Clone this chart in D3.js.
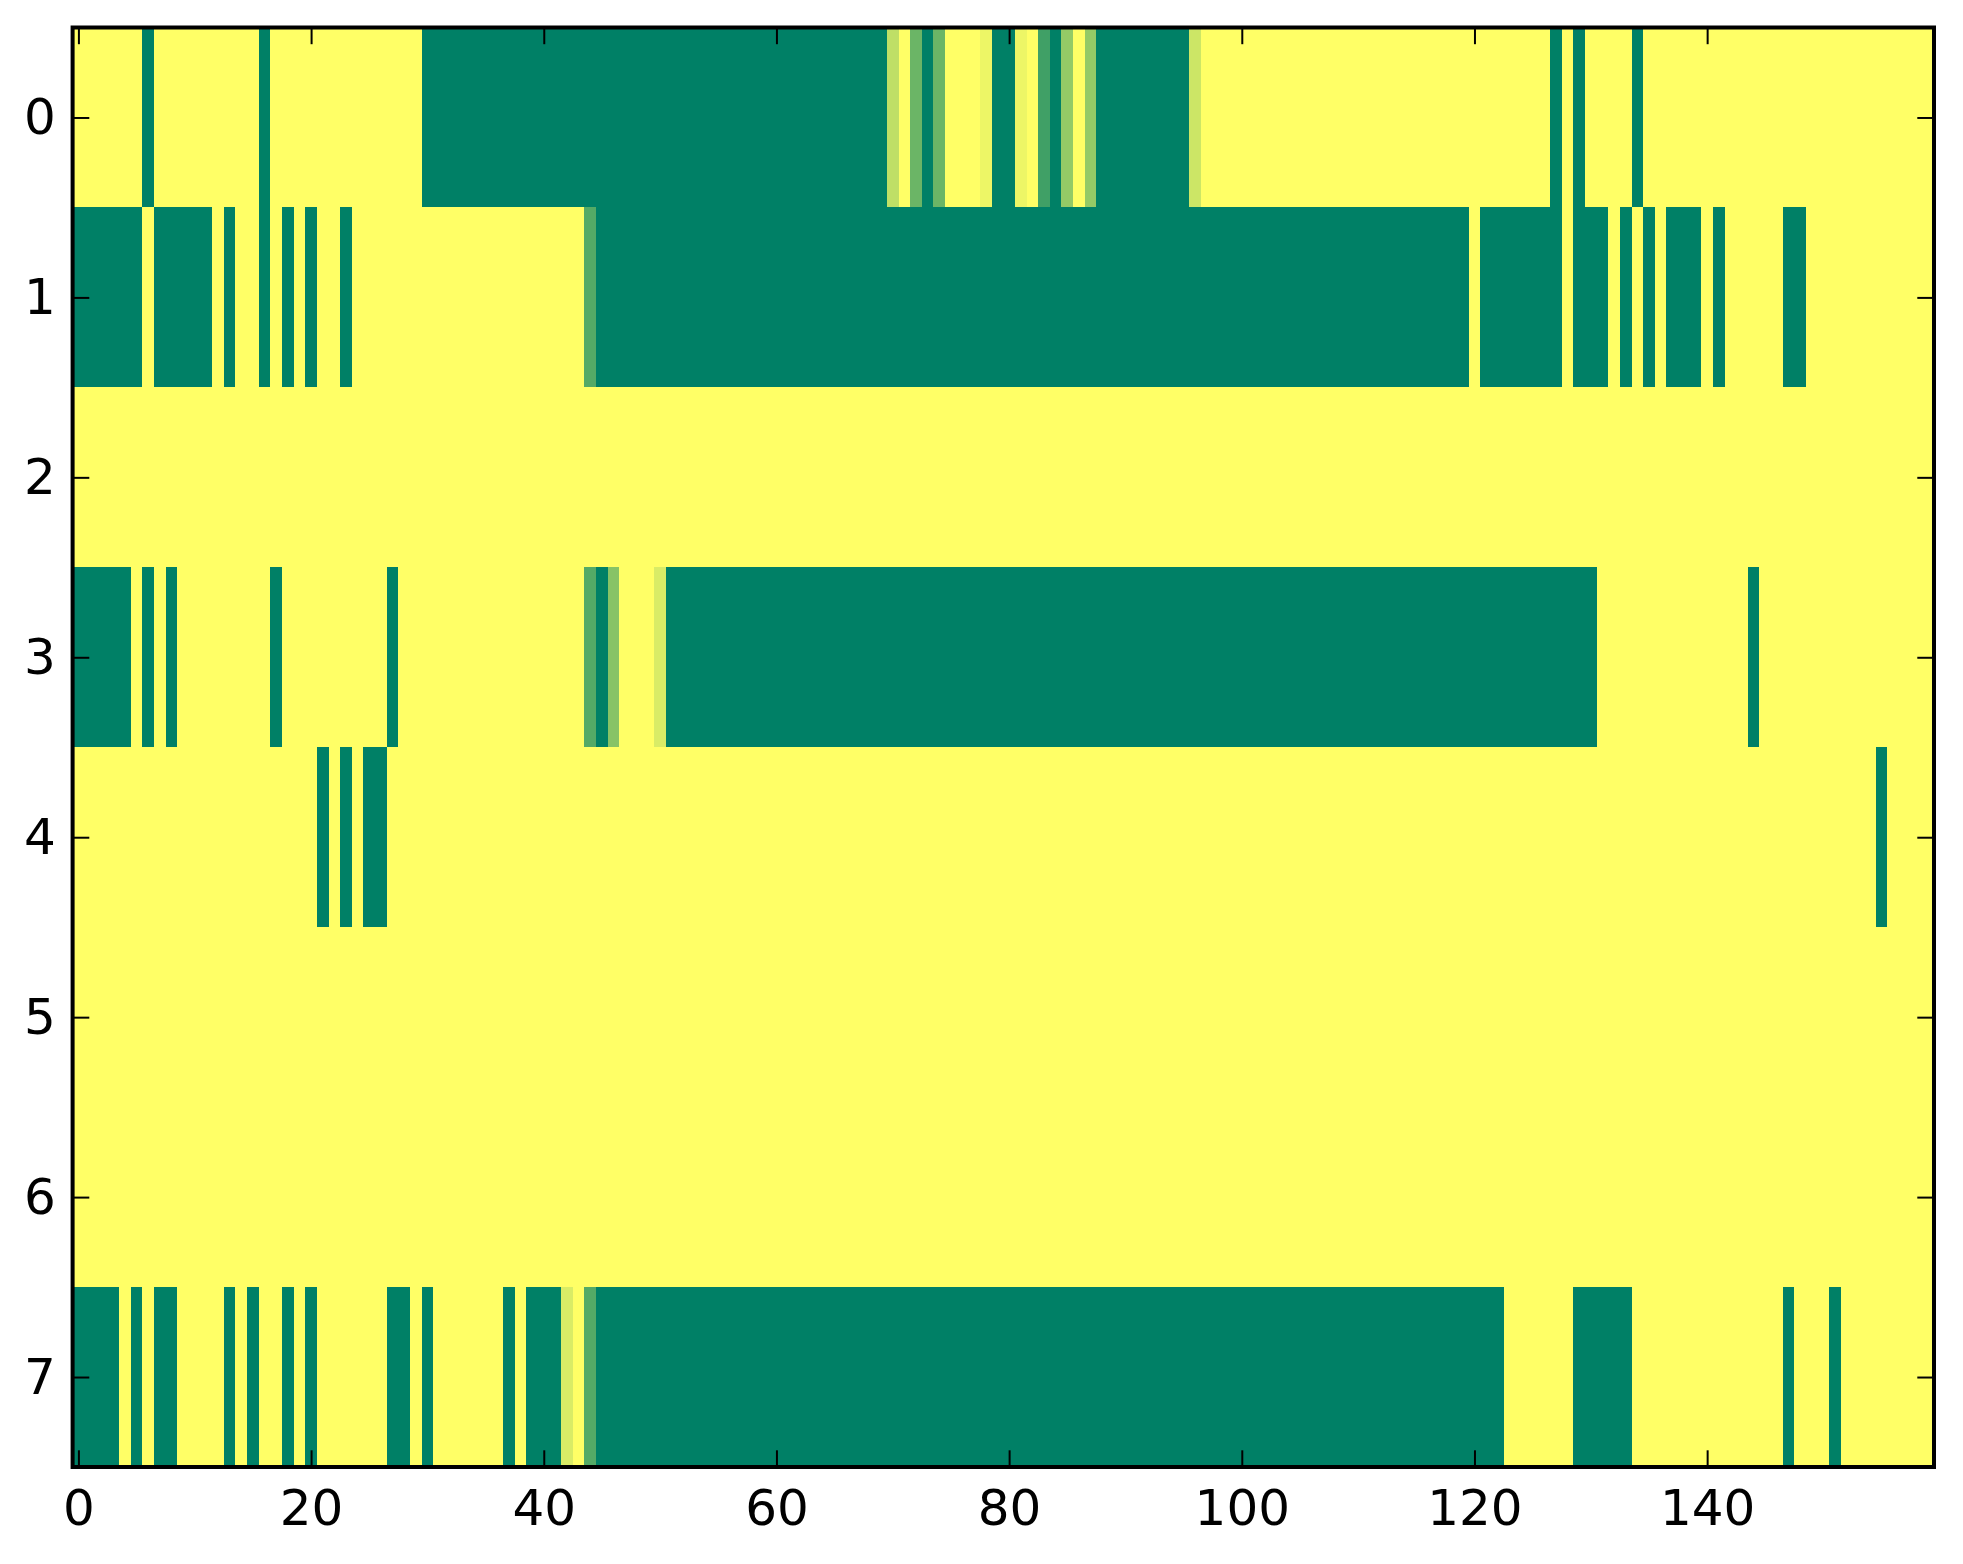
<!DOCTYPE html>
<html>
<head>
<meta charset="utf-8">
<script src="https://cdn.jsdelivr.net/npm/d3@7"></script>
<style>
  body { margin: 0; background: white; }
</style>
</head>
<body>
<div id="chart"></div>
<script>
// one array per image row, 160 cells each (0 = green, 1 = yellow)
var row0 = [
  1,1,1,1,1,1,0,1,1,1, 1,1,1,1,1,1,0,1,1,1,
  1,1,1,1,1,1,1,1,1,1, 0,0,0,0,0,0,0,0,0,0,
  0,0,0,0,0,0,0,0,0,0, 0,0,0,0,0,0,0,0,0,0,
  0,0,0,0,0,0,0,0,0,0, .75,1,.42,0,.42,1,1,1,.93,0,
  0,.93,1,.25,0,.58,1,.58,0,0, 0,0,0,0,0,0,.8,1,1,1,
  1,1,1,1,1,1,1,1,1,1, 1,1,1,1,1,1,1,1,1,1,
  1,1,1,1,1,1,1,0,1,0, 1,1,1,1,0,1,1,1,1,1,
  1,1,1,1,1,1,1,1,1,1, 1,1,1,1,1,1,1,1,1,1
];
var row1 = [
  0,0,0,0,0,0,1,0,0,0, 0,0,1,0,1,1,0,1,0,1,
  0,1,1,0,1,1,1,1,1,1, 1,1,1,1,1,1,1,1,1,1,
  1,1,1,1,.33,0,0,0,0,0, 0,0,0,0,0,0,0,0,0,0,
  0,0,0,0,0,0,0,0,0,0, 0,0,0,0,0,0,0,0,0,0,
  0,0,0,0,0,0,0,0,0,0, 0,0,0,0,0,0,0,0,0,0,
  0,0,0,0,0,0,0,0,0,0, 0,0,0,0,0,0,0,0,0,0,
  1,0,0,0,0,0,0,0,1,0, 0,0,1,0,1,0,1,0,0,0,
  1,0,1,1,1,1,1,0,0,1, 1,1,1,1,1,1,1,1,1,1
];
var row2 = [
  1,1,1,1,1,1,1,1,1,1, 1,1,1,1,1,1,1,1,1,1,
  1,1,1,1,1,1,1,1,1,1, 1,1,1,1,1,1,1,1,1,1,
  1,1,1,1,1,1,1,1,1,1, 1,1,1,1,1,1,1,1,1,1,
  1,1,1,1,1,1,1,1,1,1, 1,1,1,1,1,1,1,1,1,1,
  1,1,1,1,1,1,1,1,1,1, 1,1,1,1,1,1,1,1,1,1,
  1,1,1,1,1,1,1,1,1,1, 1,1,1,1,1,1,1,1,1,1,
  1,1,1,1,1,1,1,1,1,1, 1,1,1,1,1,1,1,1,1,1,
  1,1,1,1,1,1,1,1,1,1, 1,1,1,1,1,1,1,1,1,1
];
var row3 = [
  0,0,0,0,0,1,0,1,0,1, 1,1,1,1,1,1,1,0,1,1,
  1,1,1,1,1,1,1,0,1,1, 1,1,1,1,1,1,1,1,1,1,
  1,1,1,1,.33,0,.53,1,1,1, .85,0,0,0,0,0,0,0,0,0,
  0,0,0,0,0,0,0,0,0,0, 0,0,0,0,0,0,0,0,0,0,
  0,0,0,0,0,0,0,0,0,0, 0,0,0,0,0,0,0,0,0,0,
  0,0,0,0,0,0,0,0,0,0, 0,0,0,0,0,0,0,0,0,0,
  0,0,0,0,0,0,0,0,0,0, 0,1,1,1,1,1,1,1,1,1,
  1,1,1,1,0,1,1,1,1,1, 1,1,1,1,1,1,1,1,1,1
];
var row4 = [
  1,1,1,1,1,1,1,1,1,1, 1,1,1,1,1,1,1,1,1,1,
  1,0,1,0,1,0,0,1,1,1, 1,1,1,1,1,1,1,1,1,1,
  1,1,1,1,1,1,1,1,1,1, 1,1,1,1,1,1,1,1,1,1,
  1,1,1,1,1,1,1,1,1,1, 1,1,1,1,1,1,1,1,1,1,
  1,1,1,1,1,1,1,1,1,1, 1,1,1,1,1,1,1,1,1,1,
  1,1,1,1,1,1,1,1,1,1, 1,1,1,1,1,1,1,1,1,1,
  1,1,1,1,1,1,1,1,1,1, 1,1,1,1,1,1,1,1,1,1,
  1,1,1,1,1,1,1,1,1,1, 1,1,1,1,1,0,1,1,1,1
];
var row5 = [
  1,1,1,1,1,1,1,1,1,1, 1,1,1,1,1,1,1,1,1,1,
  1,1,1,1,1,1,1,1,1,1, 1,1,1,1,1,1,1,1,1,1,
  1,1,1,1,1,1,1,1,1,1, 1,1,1,1,1,1,1,1,1,1,
  1,1,1,1,1,1,1,1,1,1, 1,1,1,1,1,1,1,1,1,1,
  1,1,1,1,1,1,1,1,1,1, 1,1,1,1,1,1,1,1,1,1,
  1,1,1,1,1,1,1,1,1,1, 1,1,1,1,1,1,1,1,1,1,
  1,1,1,1,1,1,1,1,1,1, 1,1,1,1,1,1,1,1,1,1,
  1,1,1,1,1,1,1,1,1,1, 1,1,1,1,1,1,1,1,1,1
];
var row6 = [
  1,1,1,1,1,1,1,1,1,1, 1,1,1,1,1,1,1,1,1,1,
  1,1,1,1,1,1,1,1,1,1, 1,1,1,1,1,1,1,1,1,1,
  1,1,1,1,1,1,1,1,1,1, 1,1,1,1,1,1,1,1,1,1,
  1,1,1,1,1,1,1,1,1,1, 1,1,1,1,1,1,1,1,1,1,
  1,1,1,1,1,1,1,1,1,1, 1,1,1,1,1,1,1,1,1,1,
  1,1,1,1,1,1,1,1,1,1, 1,1,1,1,1,1,1,1,1,1,
  1,1,1,1,1,1,1,1,1,1, 1,1,1,1,1,1,1,1,1,1,
  1,1,1,1,1,1,1,1,1,1, 1,1,1,1,1,1,1,1,1,1
];
var row7 = [
  0,0,0,0,1,0,1,0,0,1, 1,1,1,0,1,0,1,1,0,1,
  0,1,1,1,1,1,1,0,0,1, 0,1,1,1,1,1,1,0,1,0,
  0,0,.85,1,.33,0,0,0,0,0, 0,0,0,0,0,0,0,0,0,0,
  0,0,0,0,0,0,0,0,0,0, 0,0,0,0,0,0,0,0,0,0,
  0,0,0,0,0,0,0,0,0,0, 0,0,0,0,0,0,0,0,0,0,
  0,0,0,0,0,0,0,0,0,0, 0,0,0,0,0,0,0,0,0,0,
  0,0,0,1,1,1,1,1,1,0, 0,0,0,0,1,1,1,1,1,1,
  1,1,1,1,1,1,1,0,1,1, 1,0,1,1,1,1,1,1,1,1
];
var rows = [row0, row1, row2, row3, row4, row5, row6, row7];

var xTicks = [0, 20, 40, 60, 80, 100, 120, 140];
var yTicks = [0, 1, 2, 3, 4, 5, 6, 7];

var svgWidth = 1963,
    svgHeight = 1564;
var plotLeft = 72.6, plotRight = 1934, plotTop = 27.5, plotBottom = 1467;
var tickLen = 16.7;

var svg = d3.select('#chart').append('svg')
    .attr('width', svgWidth)
    .attr('height', svgHeight)
    .style('background', 'white')
    .style('display', 'block');

var x = d3.scaleLinear().domain([-0.5, row0.length - 0.5]).range([plotLeft, plotRight]);
var y = d3.scaleLinear().domain([-0.5, rows.length - 0.5]).range([plotTop, plotBottom]);
// matplotlib "summer" colormap
var color = d3.scaleLinear().domain([0, 1]).range(['#008066', '#ffff66']);

// heatmap cells
var cells = [];
rows.forEach(function(r, ri) {
    r.forEach(function(v, ci) {
        cells.push({row: ri, col: ci, value: v});
    });
});

svg.append('g')
    .selectAll('rect')
    .data(cells)
    .enter().append('rect')
    .attr('x', function(d) { return x(d.col - 0.5); })
    .attr('y', function(d) { return y(d.row - 0.5); })
    .attr('width', function(d) { return x(d.col + 0.5) - x(d.col - 0.5) + 0.4; })
    .attr('height', function(d) { return y(d.row + 0.5) - y(d.row - 0.5) + 0.4; })
    .attr('fill', function(d) { return color(d.value); })
    .attr('shape-rendering', 'crispEdges');

function styleAxis(g, showLabels) {
    g.select('.domain').remove();
    g.selectAll('.tick line').attr('stroke', 'black').attr('stroke-width', 2);
    g.selectAll('.tick text')
        .attr('fill', 'black')
        .style('font-family', '"DejaVu Sans", sans-serif')
        .style('font-size', '50px');
    if (!showLabels) g.selectAll('.tick text').remove();
}

// bottom + left axes with labels, ticks pointing inward
svg.append('g')
    .attr('transform', 'translate(0,' + plotBottom + ')')
    .call(d3.axisBottom(x).tickValues(xTicks).tickSizeInner(-tickLen).tickSizeOuter(0).tickPadding(22))
    .call(styleAxis, true);

svg.append('g')
    .attr('transform', 'translate(' + plotLeft + ',0)')
    .call(d3.axisLeft(y).tickValues(yTicks).tickSizeInner(-tickLen).tickSizeOuter(0).tickPadding(tickLen))
    .call(styleAxis, true);

// top + right ticks only
svg.append('g')
    .attr('transform', 'translate(0,' + plotTop + ')')
    .call(d3.axisTop(x).tickValues(xTicks).tickSizeInner(-tickLen).tickSizeOuter(0))
    .call(styleAxis, false);

svg.append('g')
    .attr('transform', 'translate(' + plotRight + ',0)')
    .call(d3.axisRight(y).tickValues(yTicks).tickSizeInner(-tickLen).tickSizeOuter(0))
    .call(styleAxis, false);

// frame
svg.append('rect')
    .attr('x', plotLeft).attr('y', plotTop)
    .attr('width', plotRight - plotLeft).attr('height', plotBottom - plotTop)
    .attr('fill', 'none')
    .attr('stroke', 'black')
    .attr('stroke-width', 4);
</script>
</body>
</html>
